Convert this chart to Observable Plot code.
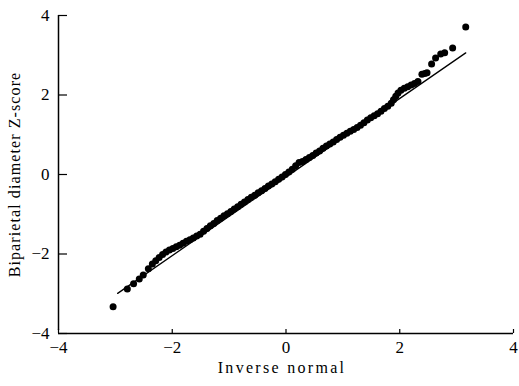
<!DOCTYPE html>
<html>
<head>
<meta charset="utf-8">
<script src="https://cdn.jsdelivr.net/npm/d3@7"></script>
<script src="https://cdn.jsdelivr.net/npm/@observablehq/plot@0.6"></script>
<style>
  html, body { margin: 0; padding: 0; background: #fff; }
</style>
</head>
<body>
<div id="chart"></div>
<script>
// Tick values
const xTicks = [-4, -2, 0, 2, 4];
const yTicks = [-4, -2, 0, 2, 4];
const xTitle = "Inverse normal";
const yTitle = "Biparietal diameter Z-score";

const qX = [
  -3.04, -2.79, -2.68, -2.58, -2.51, -2.42,
  -2.35, -2.29, -2.23, -2.17, -2.11, -2.05, -1.99, -1.93, -1.87, -1.81,
  -1.75, -1.69, -1.63, -1.57, -1.51, -1.45, -1.39, -1.33, -1.27, -1.21,
  -1.15, -1.09, -1.03, -0.97, -0.91, -0.85, -0.79, -0.73, -0.67, -0.61,
  -0.55, -0.49, -0.43, -0.37, -0.31, -0.25, -0.19, -0.13, -0.07, -0.01,
  0.05, 0.11, 0.17, 0.23, 0.29, 0.35, 0.41, 0.47, 0.53, 0.59,
  0.65, 0.71, 0.77, 0.83, 0.89, 0.95, 1.01, 1.07, 1.13, 1.19,
  1.25, 1.31, 1.37, 1.43, 1.49, 1.55, 1.61, 1.67, 1.73, 1.79,
  1.85, 1.89, 1.93, 1.97, 2.02, 2.08, 2.14, 2.20, 2.26, 2.32,
  2.39, 2.44, 2.48,
  2.56, 2.63, 2.72, 2.79, 2.93, 3.16
];
const qY = [
  -3.33, -2.88, -2.75, -2.63, -2.53, -2.37,
  -2.25, -2.17, -2.09, -2.01, -1.95, -1.90, -1.86, -1.82, -1.78, -1.73,
  -1.68, -1.64, -1.60, -1.55, -1.50, -1.43, -1.36, -1.29, -1.23, -1.16,
  -1.10, -1.04, -0.99, -0.93, -0.87, -0.81, -0.75, -0.69, -0.63, -0.57,
  -0.52, -0.46, -0.41, -0.35, -0.29, -0.24, -0.18, -0.12, -0.06, 0.00,
  0.06, 0.13, 0.22, 0.30, 0.33, 0.38, 0.43, 0.48, 0.54, 0.59,
  0.66, 0.72, 0.77, 0.82, 0.88, 0.94, 0.99, 1.04, 1.09, 1.13,
  1.18, 1.24, 1.30, 1.37, 1.43, 1.48, 1.53, 1.59, 1.66, 1.72,
  1.79, 1.88, 1.97, 2.05, 2.12, 2.17, 2.21, 2.25, 2.29, 2.34,
  2.52, 2.54, 2.56,
  2.78, 2.93, 3.03, 3.06, 3.18, 3.71
];

// Reference line end points
const refX = [-2.96, 3.16];
const refY = [-2.99, 3.06];

const points = qX.map((x, i) => ({x, y: qY[i]}));
const refLine = refX.map((x, i) => ({x, y: refY[i]}));

const W = 519, H = 386;
const mL = 58, mR = 6, mT = 15, mB = 53;
const plotW = W - mL - mR, plotH = H - mT - mB;

const chart = Plot.plot({
  width: W,
  height: H,
  marginLeft: mL,
  marginRight: mR,
  marginTop: mT,
  marginBottom: mB,
  style: {fontFamily: "'Liberation Serif', serif", fontSize: "17px", background: "#fff", color: "#000"},
  x: {domain: [xTicks[0], xTicks[xTicks.length - 1]], ticks: xTicks, tickSize: 0, tickPadding: 7, label: null},
  y: {domain: [yTicks[0], yTicks[yTicks.length - 1]], ticks: yTicks, tickSize: 0, tickPadding: 9, label: null},
  marks: [
    Plot.ruleX([xTicks[0]], {stroke: "#000", strokeWidth: 1.5, y1: yTicks[0], y2: yTicks[yTicks.length - 1], insetTop: -3}),
    Plot.ruleY([yTicks[0]], {stroke: "#000", strokeWidth: 1.5}),
    Plot.tickX(xTicks, {x: d => d, insetTop: plotH - 4, stroke: "#000", strokeWidth: 1.2}),
    Plot.tickY(yTicks, {y: d => d, insetRight: plotW - 9, stroke: "#000", strokeWidth: 1.2}),
    Plot.line(refLine, {x: "x", y: "y", stroke: "#000", strokeWidth: 1.3}),
    Plot.dot(points, {x: "x", y: "y", r: 3.5, fill: "#000", stroke: null}),
    Plot.text([xTitle], {frameAnchor: "bottom", dy: 39, dx: -4, text: d => d, fontSize: 16, fill: "#000", textAnchor: "middle"}),
    Plot.text([yTitle], {frameAnchor: "left", dx: -44, rotate: -90, text: d => d, fontSize: 16, fill: "#000", textAnchor: "middle"})
  ]
});

d3.select(chart).selectAll("text")
  .filter(function () { return this.textContent === xTitle; })
  .style("letter-spacing", "2.3px");
d3.select(chart).selectAll("text")
  .filter(function () { return this.textContent === yTitle; })
  .style("letter-spacing", "1.1px");

document.getElementById("chart").appendChild(chart);
</script>
</body>
</html>
